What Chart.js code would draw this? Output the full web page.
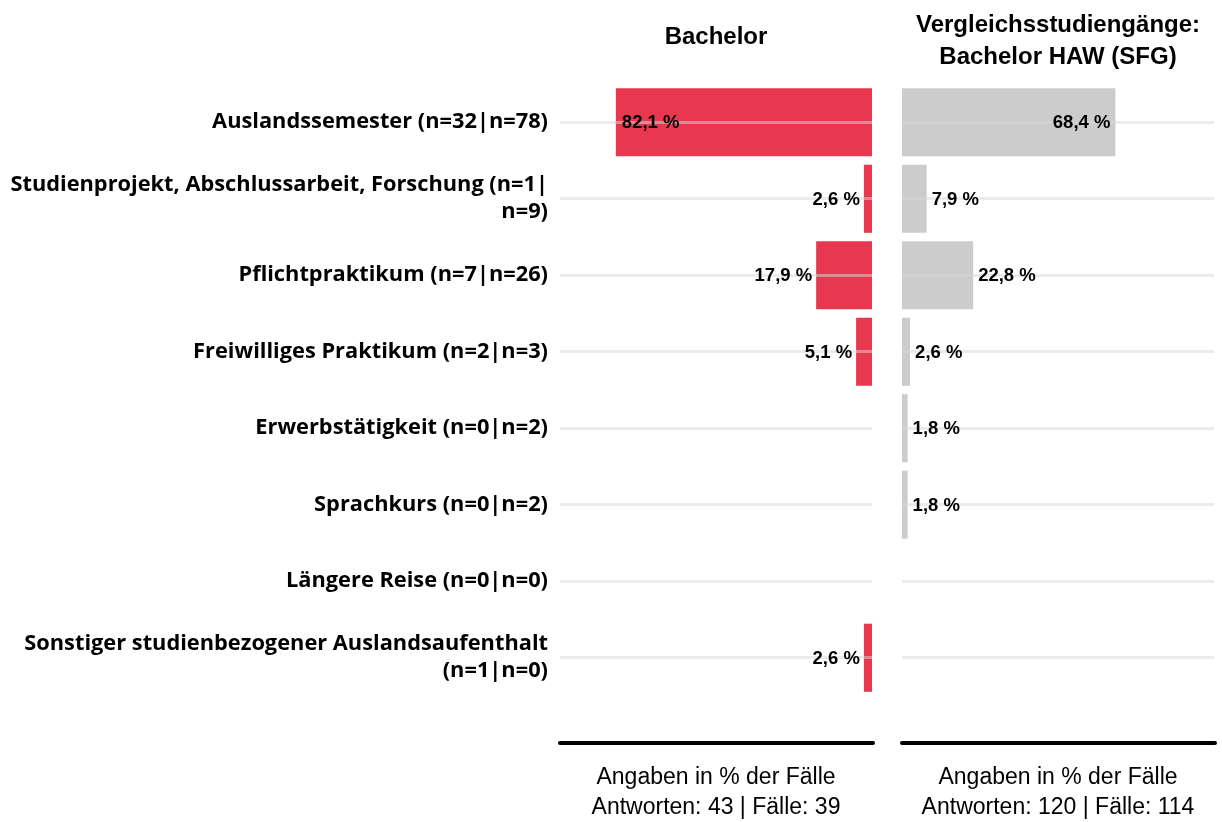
<!DOCTYPE html>
<html>
<head>
    <title>Auslandsaufenthalte</title>
    <script src="https://cdn.jsdelivr.net/npm/chart.js"></script>
    <style>
        body { margin: 0; background: #fff; }
        #wrap { position: relative; width: 1222px; height: 822px; }
        .panel { position: absolute; top: 0; height: 822px; }
        #leftBox { left: 0; width: 886px; }
        #rightBox { left: 886px; width: 336px; }
    </style>
</head>
<body>
<div id="wrap">
    <div class="panel" id="leftBox"><canvas id="leftChart"></canvas></div>
    <div class="panel" id="rightBox"><canvas id="rightChart"></canvas></div>
</div>
<script>
    const categories = [
        'Auslandssemester (n=32|n=78)',
        ['Studienprojekt, Abschlussarbeit, Forschung (n=1|', 'n=9)'],
        'Pflichtpraktikum (n=7|n=26)',
        'Freiwilliges Praktikum (n=2|n=3)',
        'Erwerbstätigkeit (n=0|n=2)',
        'Sprachkurs (n=0|n=2)',
        'Längere Reise (n=0|n=0)',
        ['Sonstiger studienbezogener Auslandsaufenthalt', '(n=1|n=0)']
    ];
    const bachelorValues = [82.1, 2.6, 17.9, 5.1, 0, 0, 0, 2.6];
    const sfgValues = [68.4, 7.9, 22.8, 2.6, 1.8, 1.8, 0, 0];
    const leftTitle = 'Bachelor';
    const rightTitle = ['Vergleichsstudiengänge:', 'Bachelor HAW (SFG)'];
    const leftAxisTitle = ['Angaben in % der Fälle', 'Antworten: 43 | Fälle: 39'];
    const rightAxisTitle = ['Angaben in % der Fälle', 'Antworten: 120 | Fälle: 114'];

    const ARIAL = '"Liberation Sans", Arial, sans-serif';
    const TOP = 84, BOTTOM_H = 126;

    // Prozentwerte an die Balken schreiben (nach den Gitterlinien)
    const valueLabels = {
        id: 'valueLabels',
        afterDraw(chart, args, opts) {
            const ctx = chart.ctx;
            const meta = chart.getDatasetMeta(0);
            const values = chart.data.datasets[0].data;
            ctx.save();
            ctx.font = 'bold 18.5px ' + ARIAL;
            ctx.fillStyle = '#000';
            ctx.textBaseline = 'middle';
            meta.data.forEach((bar, i) => {
                const v = values[i];
                if (!v) return;
                const txt = v.toFixed(1).replace('.', ',') + ' %';
                const inside = v > 30;
                let x;
                if (opts.dir < 0) {
                    ctx.textAlign = inside ? 'left' : 'right';
                    x = inside ? bar.x + 6 : bar.x - 4;
                } else {
                    ctx.textAlign = inside ? 'right' : 'left';
                    x = inside ? bar.x - 5 : bar.x + 5;
                }
                ctx.fillText(txt, x, bar.y + 1);
            });
            ctx.restore();
        }
    };

    // dicke Achsenlinie unter dem Diagramm
    const axisLine = {
        id: 'axisLine',
        afterDraw(chart) {
            const {ctx, chartArea} = chart;
            ctx.save();
            ctx.strokeStyle = '#000';
            ctx.lineWidth = 4;
            ctx.lineCap = 'round';
            ctx.beginPath();
            ctx.moveTo(chartArea.left, chartArea.bottom + 47);
            ctx.lineTo(chartArea.right + 1, chartArea.bottom + 47);
            ctx.stroke();
            ctx.restore();
        }
    };

    function makeChart(id, values, color, title, axisTitle, isLeft) {
        const titleLines = Array.isArray(title) ? title.length : 1;
        const titleTop = isLeft ? 21 : 9;
        return new Chart(document.getElementById(id), {
            type: 'bar',
            plugins: [valueLabels, axisLine],
            data: {
                labels: categories,
                datasets: [{
                    data: values,
                    backgroundColor: color,
                    barPercentage: 0.89,
                    categoryPercentage: 1
                }]
            },
            options: {
                indexAxis: 'y',
                responsive: true,
                maintainAspectRatio: false,
                animation: false,
                layout: {
                    padding: { left: isLeft ? 0 : 16, right: isLeft ? 14 : 8, top: 0, bottom: 0 }
                },
                plugins: {
                    legend: { display: false },
                    tooltip: { enabled: false },
                    valueLabels: { dir: isLeft ? -1 : 1 },
                    title: {
                        display: true,
                        text: title,
                        fullSize: false,
                        color: '#000',
                        font: { family: ARIAL, size: 24, weight: 'bold', lineHeight: 32 / 24 },
                        padding: { top: titleTop, bottom: TOP - titleTop - 32 * titleLines }
                    }
                },
                scales: {
                    x: {
                        min: 0,
                        max: 100,
                        reverse: isLeft,
                        grid: { display: false },
                        border: { display: false },
                        ticks: { display: false },
                        title: {
                            display: true,
                            text: axisTitle,
                            color: '#000',
                            font: { family: ARIAL, size: 23, lineHeight: 30 / 23 },
                            padding: { top: 0, bottom: -1 }
                        },
                        afterFit: s => { s.height = BOTTOM_H; }
                    },
                    y: {
                        grid: {
                            offset: false,
                            drawTicks: false,
                            z: 1,
                            color: 'rgba(215,215,215,0.5)',
                            lineWidth: 3
                        },
                        border: { display: false },
                        ticks: {
                            display: isLeft,
                            padding: 12,
                            color: '#000',
                            font: { family: '"Open Sans", Lato, sans-serif', size: 21.8, weight: 'bold', lineHeight: 27 / 21.8 }
                        },
                        afterFit: s => { s.width = isLeft ? 560 : 0; }
                    }
                }
            }
        });
    }

    makeChart('leftChart', bachelorValues, '#E8384F', leftTitle, leftAxisTitle, true);
    makeChart('rightChart', sfgValues, '#CCCCCC', rightTitle, rightAxisTitle, false);
</script>
</body>
</html>
